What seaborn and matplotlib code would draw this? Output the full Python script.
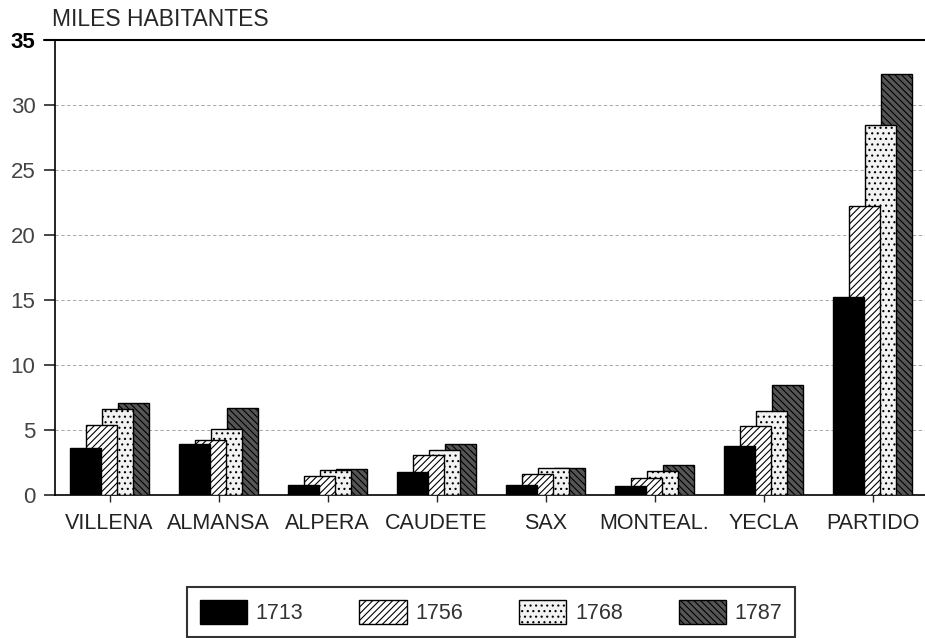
import pandas as pd
import matplotlib.pyplot as plt
import seaborn as sns
from matplotlib.patches import Patch

# Datos (miles de habitantes)
municipios = ['VILLENA', 'ALMANSA', 'ALPERA', 'CAUDETE', 'SAX', 'MONTEAL.', 'YECLA', 'PARTIDO']
anios = ['1713', '1756', '1768', '1787']
v1713 = [3.6, 3.9, 0.8, 1.8, 0.8, 0.7, 3.8, 15.2]
v1756 = [5.4, 4.2, 1.5, 3.1, 1.6, 1.3, 5.3, 22.2]
v1768 = [6.6, 5.1, 1.9, 3.5, 2.1, 1.85, 6.5, 28.5]
v1787 = [7.1, 6.7, 2.0, 3.9, 2.1, 2.3, 8.5, 32.4]

filas = []
for anio, vals in zip(anios, [v1713, v1756, v1768, v1787]):
    for m, v in zip(municipios, vals):
        filas.append({'municipio': m, 'anio': anio, 'valor': v})
df = pd.DataFrame(filas)

sns.set_style('white')
plt.rcParams['font.family'] = 'Liberation Sans'
plt.rcParams['hatch.linewidth'] = 0.8

estilos = {
    '1713': dict(facecolor='black', hatch=''),
    '1756': dict(facecolor='white', hatch='/////'),
    '1768': dict(facecolor='#f2f2f2', hatch='...'),
    '1787': dict(facecolor='#555555', hatch='\\\\\\\\\\'),
}

fig = plt.figure(figsize=(9.25, 6.38), dpi=100)
ax = fig.add_axes([55 / 925, 143 / 638, 872 / 925, 455 / 638])

sns.barplot(data=df, x='municipio', y='valor', hue='anio', hue_order=anios,
            order=municipios, width=0.58, ax=ax, legend=False)

# barras solapadas: cada barra casi el doble del paso, las anteriores delante
ancho = 0.285
for i, (anio, cont) in enumerate(zip(anios, ax.containers)):
    for barra in cont:
        centro = barra.get_x() + barra.get_width() / 2
        barra.set_width(ancho)
        barra.set_x(centro - ancho / 2)
        barra.set_facecolor(estilos[anio]['facecolor'])
        barra.set_hatch(estilos[anio]['hatch'])
        barra.set_edgecolor('black')
        barra.set_linewidth(1.0)
        barra.set_zorder(10 - i)

ax.set_ylim(0, 35)
ax.set_xlim(-0.5, 7.5)
ax.set_yticks(range(0, 36, 5))
ax.set_yticklabels(['0', '5', '10', '15', '20', '25', '30', '35'], fontsize=16, color='#444444')
ax.get_yticklabels()[-1].set_fontweight('bold')
ax.get_yticklabels()[-1].set_color('black')
ax.tick_params(axis='y', left=True, length=8, width=1.2, pad=6)
ax.tick_params(axis='x', bottom=True, length=5, width=1, pad=8, labelsize=15.5, labelcolor='#222222')
ax.set_xlabel('')
ax.set_ylabel('')

# rejilla discontinua
for y in range(5, 35, 5):
    ax.axhline(y, color='#999999', linestyle=(0, (4, 3)), linewidth=0.6, zorder=0)

ax.spines['right'].set_visible(False)
for lado in ['top', 'left', 'bottom']:
    ax.spines[lado].set_color('black')
ax.spines['top'].set_linewidth(1.5)
ax.spines['left'].set_linewidth(1.2)
ax.spines['bottom'].set_linewidth(1.2)
ax.plot([-0.013, 0], [1, 1], transform=ax.transAxes, color='black', linewidth=1.5, clip_on=False)

fig.text(52 / 925, 1 - 19 / 638, 'MILES HABITANTES', fontsize=16.5, va='center', ha='left')

manejadores = [Patch(facecolor=estilos[a]['facecolor'], hatch=estilos[a]['hatch'],
                     edgecolor='black', linewidth=1.0) for a in anios]
leg = fig.legend(manejadores, anios, loc='center', bbox_to_anchor=(491 / 925, 1 - 612 / 638),
                 ncol=4, fontsize=15.5, frameon=True, fancybox=False, edgecolor='black',
                 handlelength=2.2, handleheight=1.4, columnspacing=2.6, borderpad=0.6,
                 handletextpad=0.4, labelcolor='#333333')
leg.get_frame().set_linewidth(1.5)

fig.savefig('out.png', dpi=100)
